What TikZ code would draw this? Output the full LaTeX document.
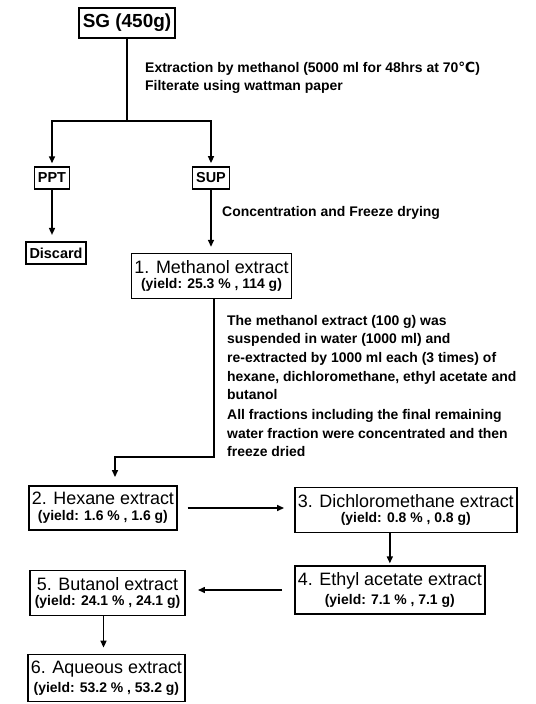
\documentclass[tikz,border=0pt]{standalone}
\usepackage{fontspec}
\setmainfont{Liberation Sans}
\newfontfamily\symfont{DejaVu Sans}
\usetikzlibrary{arrows.meta}

\newcommand{\extr}[2]{{\fontsize{18}{20}\selectfont #1}\\[4pt]{\fontsize{14}{16}\selectfont\bfseries #2}}

\begin{document}
\begin{tikzpicture}[x=1bp, y=-1bp,
    box/.style={draw, line width=1.6pt, align=center, inner xsep=3pt, inner ysep=6.5pt},
    tag/.style={box, font=\fontsize{14.5}{17}\selectfont\bfseries, inner xsep=3.5pt, inner ysep=6pt},
    note/.style={anchor=north west, align=left, inner sep=0pt, font=\fontsize{14}{18.7}\selectfont\bfseries},
    link/.style={line width=1.5pt},
    flow/.style={link, -{Triangle[length=7pt,width=6pt]}}]
    \useasboundingbox (0,0) rectangle (536,704);

    % Top: crude material and first split
    \node[box, font=\fontsize{19}{22}\selectfont\bfseries, inner xsep=4pt, inner ysep=6pt] (sg) at (127,23) {SG (450g)};
    \coordinate (split) at (127,121);
    \node[tag] (ppt) at (52,178) {PPT};
    \node[tag] (sup) at (211,178) {SUP};
    \node[tag] (discard) at (56,253) {Discard};

    \node[note] (extnote) at (145,62) {Extraction by methanol (5000 ml for 48hrs at 70{\symfont ℃})\\[-1pt]Filterate using wattman paper};
    \node[note, anchor=west] (concnote) at (222,213) {Concentration and Freeze drying};

    \draw[link] (sg) -- (split);
    \draw[flow, shorten >=3pt] (split) -| (ppt);
    \draw[flow, shorten >=3pt] (split) -| (sup);
    \draw[flow, shorten >=6pt] (ppt.south) -- (ppt.south |- discard.north);

    % Methanol extract
    \node[box] (meth) at (211.5,276) {\extr{1. Methanol extract}{(yield: 25.3 \% , 114 g)}};
    \draw[flow, shorten >=6pt] (sup.south) -- (sup.south |- meth.north);

    \node[note] (partnote) at (227,315) {The methanol extract (100 g) was\\suspended in water (1000 ml) and\\re-extracted by 1000 ml each (3 times) of\\hexane, dichloromethane, ethyl acetate and\\butanol\\[1pt]All fractions including the final remaining\\water fraction were concentrated and then\\freeze dried};

    % Solvent fractions
    \node[box, anchor=west] (hex) at (28,508) {\extr{2. Hexane extract}{(yield: 1.6 \% , 1.6 g)}};
    \node[box, anchor=west] (dcm) at (294,510) {\extr{3. Dichloromethane extract}{(yield: 0.8 \% , 0.8 g)}};
    \node[box, anchor=west] (eth) at (294,590) {\extr{4. Ethyl acetate extract}{(yield: 7.1 \% , 7.1 g)}};
    \node[box, anchor=west, inner xsep=5pt] (but) at (29,593) {\extr{5. Butanol extract}{(yield: 24.1 \% , 24.1 g)}};
    \node[box, anchor=west] (aq) at (27,678) {\extr{6. Aqueous extract}{(yield: 53.2 \% , 53.2 g)}};

    \coordinate (bend) at (214,457);
    \coordinate (drop) at (115,457);
    \draw[flow, shorten >=8pt] (meth.south -| bend) -- (bend) -- (drop) -- (drop |- hex.north);
    \draw[flow, shorten <=10pt, shorten >=10pt] (hex.east) -- (hex.east -| dcm.west);
    \draw[flow, shorten >=2pt] (eth.north |- dcm.south) -- (eth.north);
    \draw[flow, shorten <=12pt, shorten >=12pt] (eth.west) -- (eth.west -| but.east);
    \draw[flow, shorten >=6pt] ([xshift=-4bp]but.south) -- ([xshift=-4bp]but.south |- aq.north);

\end{tikzpicture}
\end{document}
